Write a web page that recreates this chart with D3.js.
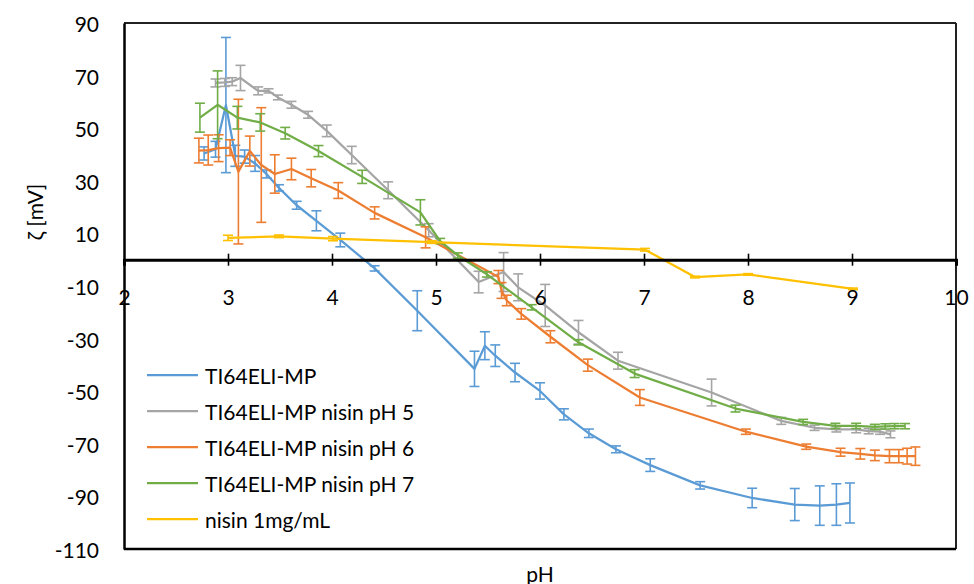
<!DOCTYPE html>
<html>
<head>
<meta charset="utf-8">
<script src="https://cdn.jsdelivr.net/npm/d3@7/dist/d3.min.js"></script>
<style>
  html, body { margin: 0; padding: 0; background: #fff; }
  text { font-family: Lato, "Open Sans", sans-serif; fill: #000; }
</style>
</head>
<body>
<svg id="chart" width="974" height="584"></svg>
<script>
// ---- data ----
const seriesNames = ["TI64ELI-MP", "TI64ELI-MP nisin pH 5", "TI64ELI-MP nisin pH 6", "TI64ELI-MP nisin pH 7", "nisin 1mg/mL"];
const seriesColors = ["#5B9BD5", "#A5A5A5", "#ED7D31", "#70AD47", "#FFC000"];

const bluePH  = [2.77, 2.88, 2.98, 3.07, 3.16, 3.26, 3.37, 3.49, 3.66, 3.85, 4.08, 4.41, 4.82, 5.37, 5.47, 5.57, 5.76, 6.0, 6.23, 6.47, 6.73, 7.06, 7.54, 8.04, 8.45, 8.69, 8.85, 8.98];
const blueZ   = [40.4, 42, 58.8, 39.5, 39.2, 36.6, 32.6, 27.3, 20.7, 14.8, 7.5, -3.3, -19.4, -41.5, -32.7, -36.5, -42.9, -49.9, -58.8, -66.0, -72.1, -78.1, -85.8, -90.6, -93.1, -93.5, -93.1, -92.5];
const blueErr = [2.5, 3, 25.7, 4, 2.5, 3, 1.5, 1.2, 1.5, 3.8, 2.6, 1, 7.6, 6.7, 5.3, 4.1, 3.5, 3.1, 2.1, 1.6, 1.3, 2.4, 1.4, 3.7, 6.1, 7.5, 7.9, 7.6];

const grayPH  = [2.88, 2.97, 3.04, 3.12, 3.29, 3.39, 3.48, 3.61, 3.77, 3.95, 4.19, 4.54, 4.93, 5.41, 5.65, 5.79, 6.05, 6.37, 6.75, 7.65, 8.32, 8.64, 8.85, 9.04, 9.16, 9.27, 9.37];
const grayZ   = [67.2, 67.4, 67.7, 69.1, 64.2, 64.2, 61.7, 58.9, 55.1, 49.0, 39.8, 26.4, 11.2, -8.5, -4.7, -10.5, -17.4, -27.6, -38.4, -50.5, -61.3, -63.9, -64.5, -64.5, -65.2, -65.4, -66.4];
const grayErr = [1.5, 1.5, 1.5, 4.8, 1.5, 0.8, 0.9, 1.3, 1.3, 2.2, 3.3, 3.2, 2.5, 4.1, 7.4, 5.1, 8, 4.5, 3.2, 5.1, 1.3, 1, 1, 1.3, 1, 1, 1.3];

const orangePH  = [2.72, 2.81, 2.91, 3.02, 3.10, 3.21, 3.32, 3.45, 3.61, 3.80, 4.06, 4.41, 4.90, 5.60, 5.63, 5.68, 5.82, 6.10, 6.46, 6.96, 7.98, 8.56, 8.89, 9.08, 9.22, 9.36, 9.45, 9.53, 9.61];
const orangeZ   = [41.5, 41.7, 42.4, 42.6, 33.5, 41.3, 36.0, 32.6, 34.5, 31.0, 26.3, 17.8, 8.5, -6.6, -11.7, -15.5, -20.6, -29.3, -40.1, -52.4, -65.4, -71.1, -73.2, -73.8, -74.4, -74.7, -74.7, -74.7, -74.7];
const orangeErr = [4.7, 5.7, 5.1, 3, 27.5, 5.7, 21.8, 7.3, 4.1, 3.3, 3, 2.3, 4, 2.5, 3, 2, 2, 2.3, 2.3, 3, 1, 1, 1.5, 2, 2, 2.5, 2.5, 3, 3.5];

const greenPH  = [2.73, 2.90, 3.09, 3.31, 3.55, 3.87, 4.29, 4.85, 5.04, 5.21, 5.49, 5.92, 6.37, 6.91, 7.88, 8.53, 8.84, 9.04, 9.22, 9.32, 9.41, 9.51];
const greenZ   = [54, 58.9, 54, 52.2, 48.1, 41.3, 31.5, 18, 7.1, 1.6, -5.6, -18.1, -31.4, -43.3, -56.6, -61.7, -63.2, -63.2, -63.6, -63.4, -63.3, -63.3];
const greenErr = [5.5, 12.9, 4.3, 3.3, 2.2, 2.1, 2.5, 4.8, 1, 1, 1, 1, 1, 1.5, 1.3, 1, 1, 1, 1, 1, 1, 1];

const yellowPH  = [3.0, 3.49, 4.01, 4.96, 7.01, 7.49, 8.0, 9.01];
const yellowZ   = [8.3, 8.9, 8.0, 6.7, 3.8, -6.6, -5.6, -11.1];
const yellowErr = [1, 0.5, 0.8, 0.5, 0.5, 0.3, 0.3, 0.3];

const xTicks = [2, 3, 4, 5, 6, 7, 8, 9, 10];
const yTicks = [-110, -90, -70, -50, -30, -10, 10, 30, 50, 70, 90];

const seriesPH  = [bluePH, grayPH, orangePH, greenPH, yellowPH];
const seriesZ   = [blueZ, grayZ, orangeZ, greenZ, yellowZ];
const seriesErr = [blueErr, grayErr, orangeErr, greenErr, yellowErr];

// ---- layout ----
const L = 124, R = 956, T = 23, B = 549;
const FS = "21px";
const svg = d3.select("#chart");
svg.append("rect").attr("width", 974).attr("height", 584).attr("fill", "#fff");

const x = d3.scaleLinear().domain([2, 10]).range([L, R]);
const y = d3.scaleLinear().domain([-110, 90]).range([B, T]);
const fmt = d => String(d); // plain hyphen-minus, as in the reference

// frame (top, right, bottom)
svg.append("line").attr("x1", L).attr("x2", R).attr("y1", T).attr("y2", T).attr("stroke", "#222").attr("stroke-width", 2);
svg.append("line").attr("x1", R).attr("x2", R).attr("y1", T).attr("y2", B).attr("stroke", "#222").attr("stroke-width", 2);
svg.append("line").attr("x1", L).attr("x2", R).attr("y1", B).attr("y2", B).attr("stroke", "#000").attr("stroke-width", 2.5);

// y axis
const yAxis = svg.append("g").attr("transform", `translate(${L},0)`)
  .call(d3.axisLeft(y).tickValues(yTicks).tickFormat(fmt).tickSize(0).tickPadding(25));
yAxis.select(".domain").attr("stroke", "#000").attr("stroke-width", 2.5);
yAxis.selectAll("text").style("font-size", FS).attr("fill", "#000")
  .attr("dy", null).attr("dominant-baseline", "central");

const line = d3.line().x(d => x(d[0])).y(d => y(d[1]));

seriesNames.forEach((name, i) => {
  const pts = seriesPH[i].map((p, j) => [p, seriesZ[i][j], seriesErr[i][j]]);
  const g = svg.append("g");
  g.append("path").attr("d", line(pts)).attr("fill", "none")
    .attr("stroke", seriesColors[i]).attr("stroke-width", 2.25).attr("stroke-linejoin", "round");
  const eb = g.selectAll("g.eb").data(pts).join("g").attr("class", "eb")
    .attr("stroke", seriesColors[i]).attr("stroke-width", 1.6);
  eb.append("line").attr("x1", d => x(d[0])).attr("x2", d => x(d[0]))
    .attr("y1", d => y(d[1] + d[2])).attr("y2", d => y(d[1] - d[2]));
  eb.append("line").attr("x1", d => x(d[0]) - 5).attr("x2", d => x(d[0]) + 5)
    .attr("y1", d => y(d[1] + d[2])).attr("y2", d => y(d[1] + d[2]));
  eb.append("line").attr("x1", d => x(d[0]) - 5).attr("x2", d => x(d[0]) + 5)
    .attr("y1", d => y(d[1] - d[2])).attr("y2", d => y(d[1] - d[2]));
});

// x axis on zero line
const xAxis = svg.append("g").attr("transform", `translate(0,${y(0)})`)
  .call(d3.axisBottom(x).tickValues(xTicks).tickFormat(fmt).tickSize(6).tickPadding(3));
xAxis.select(".domain").attr("stroke", "#000").attr("stroke-width", 3);
xAxis.selectAll(".tick line").attr("y1", -6).attr("y2", 6).attr("stroke", "#000").attr("stroke-width", 1.6);
xAxis.selectAll(".tick").filter(d => d === 2 || d === 10).select("line").remove();
xAxis.selectAll("text").style("font-size", FS).attr("fill", "#000")
  .attr("dy", null).attr("y", 37).attr("dominant-baseline", "central");

// axis titles
svg.append("text").attr("transform", `translate(34,212) rotate(-90)`)
  .attr("text-anchor", "middle").attr("dominant-baseline", "central")
  .style("font-size", FS).text("ζ [mV]");
svg.append("text").attr("x", 540).attr("y", 573)
  .attr("text-anchor", "middle").attr("dominant-baseline", "central")
  .style("font-size", FS).text("pH");

// legend
const lg = svg.append("g");
seriesNames.forEach((name, i) => {
  const yy = 375 + i * 36;
  lg.append("line").attr("x1", 147).attr("x2", 198).attr("y1", yy).attr("y2", yy)
    .attr("stroke", seriesColors[i]).attr("stroke-width", 2.25);
  lg.append("text").attr("x", 205).attr("y", yy).attr("dominant-baseline", "central")
    .style("font-size", FS).text(name);
});
</script>
</body>
</html>
